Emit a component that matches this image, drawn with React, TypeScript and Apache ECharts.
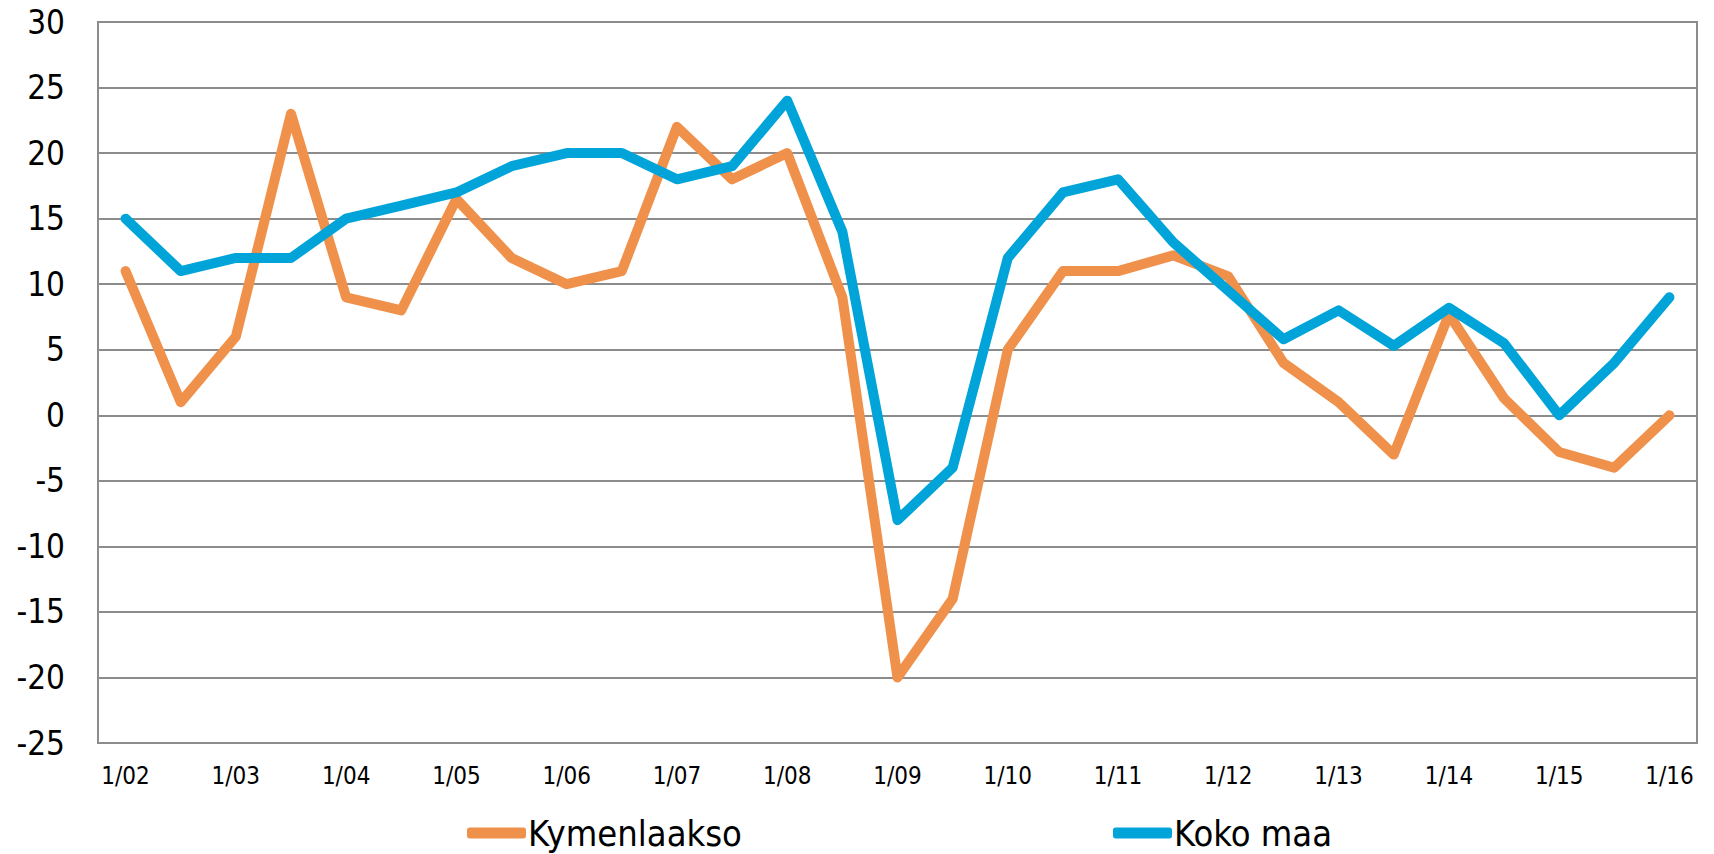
import React, { useEffect, useRef } from "react";
import * as echarts from "echarts";

const categories = [
  "1/02", "7/02", "1/03", "7/03", "1/04", "7/04", "1/05", "7/05", "1/06", "7/06",
  "1/07", "7/07", "1/08", "7/08", "1/09", "7/09", "1/10", "7/10", "1/11", "7/11",
  "1/12", "7/12", "1/13", "7/13", "1/14", "7/14", "1/15", "7/15", "1/16",
];
const kymenlaakso = [
  11, 1, 6, 23, 9, 8, 16.5, 12, 10, 11,
  22, 18, 20, 9, -20, -14, 5, 11, 11, 12.2,
  10.6, 4, 1, -3, 7.7, 1.3, -2.8, -4, 0,
];
const kokoMaa = [
  15, 11, 12, 12, 15, 16, 17, 19, 20, 20,
  18, 19, 24, 14, -8, -4, 12, 17, 18, 13.2,
  9.5, 5.8, 8, 5.3, 8.2, 5.5, 0, 4, 9,
];
const seriesNames = ["Kymenlaakso", "Koko maa"];
const colors = ["#F0914B", "#00A4D9"];

const FONT = "'Liberation Sans Narrow', 'DejaVu Sans Condensed', 'Liberation Sans', sans-serif";

const legendText = {
  fontFamily: FONT,
  fontSize: 36,
  lineHeight: 40,
  color: "#000",
  padding: [0, 0, 0, -3],
};

export default function App() {
  const ref = useRef<HTMLDivElement>(null);
  useEffect(() => {
    const chart = echarts.init(ref.current!, null, { renderer: "svg" });
    chart.setOption({
      animation: false,
      backgroundColor: "#ffffff",
      grid: {
        left: 98,
        right: 17,
        top: 22,
        bottom: 111,
        show: true,
        borderColor: "#8c8c8c",
        borderWidth: 2,
      },
      legend: [
        {
          data: [seriesNames[0]],
          left: 467,
          top: 813,
          padding: 0,
          itemWidth: 59,
          itemHeight: 11,
          itemGap: 0,
          icon: "roundRect",
          textStyle: legendText,
        },
        {
          data: [seriesNames[1]],
          left: 1113,
          top: 813,
          padding: 0,
          itemWidth: 59,
          itemHeight: 11,
          itemGap: 0,
          icon: "roundRect",
          textStyle: legendText,
        },
      ],
      xAxis: {
        type: "category",
        data: categories,
        boundaryGap: true,
        axisLine: { show: true, lineStyle: { color: "#8c8c8c", width: 2 } },
        axisTick: { show: false },
        axisLabel: {
          interval: 1,
          fontFamily: FONT,
          fontSize: 24,
          color: "#000",
          margin: 21,
        },
      },
      yAxis: {
        type: "value",
        min: -25,
        max: 30,
        interval: 5,
        axisLine: { show: true, lineStyle: { color: "#8c8c8c", width: 2 } },
        axisTick: { show: false },
        splitLine: { show: true, lineStyle: { color: "#8c8c8c", width: 2 } },
        axisLabel: {
          fontFamily: FONT,
          fontSize: 33,
          color: "#000",
          margin: 33,
        },
      },
      series: [
        {
          name: seriesNames[0],
          type: "line",
          data: kymenlaakso,
          symbol: "none",
          color: colors[0],
          lineStyle: { width: 10, color: colors[0], cap: "round", join: "round" },
          z: 2,
        },
        {
          name: seriesNames[1],
          type: "line",
          data: kokoMaa,
          symbol: "none",
          color: colors[1],
          lineStyle: { width: 10, color: colors[1], cap: "round", join: "round" },
          z: 3,
        },
      ],
    });
    return () => chart.dispose();
  }, []);
  return <div ref={ref} style={{ width: 1714, height: 854, position: "absolute", left: 0, top: 0 }} />;
}
